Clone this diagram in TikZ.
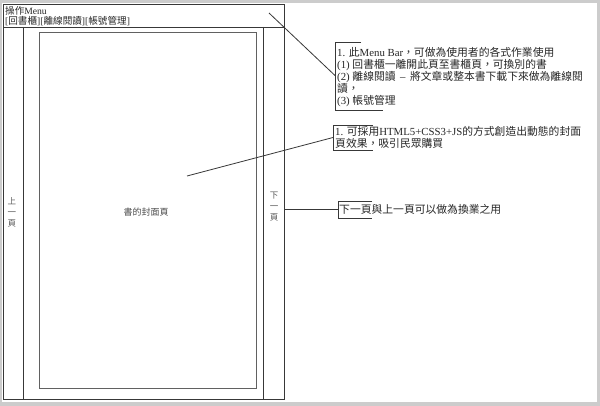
\documentclass[tikz,border=0pt]{standalone}
\usepackage{fontspec}
\setmainfont{Liberation Serif}
\newfontfamily\zhf{Noto Sans CJK TC}
\newcommand\zh[1]{{\zhf #1}}
\begin{document}
\begin{tikzpicture}[x=1pt,y=-1pt,
  ln/.style={draw=black!78, line width=0.8pt},
  txt/.style={inner sep=0pt, anchor=west, text=black!85},
  side/.style={inner sep=0pt, align=center, text=black!65, font=\fontsize{8.5}{11}\selectfont},
  callout/.style={inner sep=0pt, anchor=north west, align=left, text=black!85, font=\fontsize{10.8}{12}\selectfont}]
\useasboundingbox (0,0) rectangle (600,406);
\fill[black!20] (0,0) rectangle (600,406);
\fill[white] (2,3) rectangle (597,402);
% page frame
\draw[ln] (3,4) rectangle (284,399);
\draw[ln] (3,27) -- (284,27);
\draw[ln] (23,27) -- (23,399);
\draw[ln] (263,27) -- (263,399);
\draw[ln, draw=black!62] (39,32) rectangle (256,388);
% menu texts
\node[txt, font=\fontsize{9.6}{10}\selectfont] (menu) at (5,11) {\zh{操作}Menu};
\node[txt, font=\fontsize{9.6}{10}\selectfont] (tabs) at (5,21.5) {[\zh{回書櫃}][\zh{離線閱讀}][\zh{帳號管理}]};
% side labels
\node[side] (prev) at (12,212.5) {\zh{上}\\\zh{一}\\\zh{頁}};
\node[side] (next) at (274,207) {\zh{下}\\\zh{一}\\\zh{頁}};
\node[inner sep=0pt, text=black!70, font=\fontsize{9}{10}\selectfont] (cover) at (146,212) {\zh{書的封面頁}};
% callout 1
\coordinate (b1) at (335,42);
\coordinate (b1b) at (335,110);
\coordinate (b1m) at (335,75.5);
\draw[ln] ([xshift=26pt]b1) -- (b1) -- (b1b) -- ([xshift=48pt]b1b);
\node[callout] (c1) at (337,47) {1. \zh{此}Menu Bar\zh{，可做為使用者的各式作業使用}\\
(1) \zh{回書櫃一離開此頁至書櫃頁，可換別的書}\\
(2) \zh{離線閱讀} \,--\, \zh{將文章或整本書下載下來做為離線閱}\\
\zh{讀，}\\
(3) \zh{帳號管理}};
% callout 2
\coordinate (b2) at (333,125);
\coordinate (b2b) at (333,150);
\coordinate (b2m) at (333,137.5);
\draw[ln] ([xshift=40pt]b2) -- (b2) -- (b2b) -- ([xshift=40pt]b2b);
\node[callout] (c2) at (335,126.5) {1. \zh{可採用}HTML5+CSS3+JS\zh{的方式創造出動態的封面}\\
\zh{頁效果，吸引民眾購買}};
% callout 3
\coordinate (b3) at (338,201);
\coordinate (b3b) at (338,218);
\coordinate (b3m) at (338,209.5);
\draw[ln] ([xshift=34pt]b3) -- (b3) -- (b3b) -- ([xshift=34pt]b3b);
\node[callout, anchor=west] (c3) at (339,209.5) {\zh{下一頁與上一頁可以做為換業之用}};
% connectors
\coordinate (m1) at (269,13);
\coordinate (m2) at (187,176);
\coordinate (m3) at (284,209.5);
\draw[ln] (m1) -- (b1m);
\draw[ln] (m2) -- (b2m);
\draw[ln] (m3) -- (b3m);
\end{tikzpicture}
\end{document}
